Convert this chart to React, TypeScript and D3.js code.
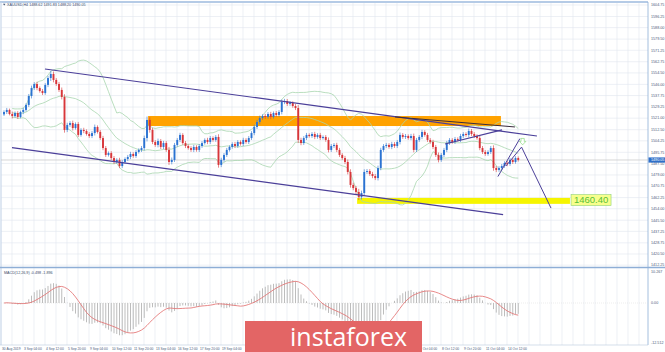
import React from 'react';
import * as d3 from 'd3';

const closes = [
  1525.6,1527.1,1524.1,1522.6,1524.8,1521.9,1525.6,1527.1,1530.8,1537.4,
  1543.3,1546.3,1543.3,1541.1,1539.6,1545.6,1550.7,1553.7,1549.3,1546.3,
  1541.9,1536.7,1512.3,1516.0,1517.4,1513.7,1516.7,1508.6,1512.3,1511.5,
  1509.3,1507.8,1510.0,1514.5,1510.8,1506.3,1498.9,1493.8,1495.2,1491.5,
  1488.6,1490.1,1485.6,1488.6,1490.8,1492.3,1494.5,1493.0,1496.0,1497.5,
  1498.9,1506.3,1519.7,1512.3,1503.4,1501.2,1504.1,1499.7,1502.6,1497.5,
  1488.6,1490.1,1501.2,1504.9,1508.6,1502.6,1500.4,1498.9,1497.5,1499.7,
  1497.5,1500.4,1502.6,1504.9,1503.4,1506.3,1504.9,1507.1,1486.4,1490.1,
  1493.8,1497.5,1499.7,1501.9,1500.4,1503.4,1501.9,1504.9,1503.4,1506.3,
  1510.0,1514.5,1518.2,1521.1,1522.6,1521.9,1524.1,1521.9,1524.8,1523.4,
  1525.6,1533.0,1533.7,1531.5,1532.2,1530.0,1528.5,1504.9,1502.6,1506.3,
  1508.6,1507.8,1509.3,1507.1,1508.6,1506.3,1507.1,1504.9,1497.5,1500.4,
  1501.2,1497.5,1493.8,1491.5,1488.6,1481.2,1471.6,1469.3,1466.4,1462.7,
  1465.6,1481.2,1481.9,1479.7,1478.2,1476.7,1484.1,1497.5,1500.4,1501.2,
  1499.7,1501.9,1500.4,1503.4,1508.6,1507.1,1507.8,1506.3,1507.8,1497.5,
  1504.9,1507.1,1510.8,1508.6,1504.9,1503.4,1499.7,1493.8,1490.1,1493.8,
  1497.5,1502.6,1504.9,1503.4,1505.6,1504.9,1507.8,1509.3,1508.6,1511.5,
  1509.3,1507.8,1506.3,1498.9,1496.0,1494.5,1496.0,1498.9,1484.1,1482.7,
  1484.1,1485.6,1487.8,1487.1,1490.1,1488.6,1491.5,1490.1,
];
const firstOpen = 1523.8;
const wicks = [
  1.2,1.5,1.0,1.8,1.2,1.4,1.0,1.6,1.2,1.5,
  1.8,1.4,1.6,1.2,1.5,1.3,1.6,2.2,1.8,1.4,
  1.5,1.8,2.0,1.6,1.4,1.8,1.2,1.5,1.3,1.6,
  1.2,1.4,1.5,1.8,1.2,1.4,1.6,1.5,1.2,1.4,
  1.5,1.3,1.6,1.4,1.2,1.5,1.6,1.3,1.4,1.2,
  1.5,1.8,2.5,2.0,1.6,1.4,1.8,1.5,1.6,1.4,
  2.2,1.8,1.5,1.4,1.6,1.3,1.5,1.2,1.4,1.6,
  1.3,1.5,1.4,1.2,1.6,1.5,1.3,1.4,2.0,1.6,
  1.4,1.5,1.2,1.3,1.5,1.4,1.2,1.6,1.3,1.5,
  1.4,1.6,1.5,1.8,1.3,1.5,1.4,1.6,1.2,1.5,
  1.4,1.8,1.6,1.5,1.4,1.3,1.5,2.2,1.6,1.4,
  1.5,1.2,1.4,1.6,1.3,1.5,1.2,1.4,1.8,1.5,
  1.4,1.6,1.5,1.3,1.6,1.8,2.0,1.6,1.5,2.3,
  1.8,2.0,1.5,1.4,1.6,1.5,1.8,1.6,1.4,1.5,
  1.3,1.6,1.4,1.5,1.8,1.4,1.5,1.2,1.6,1.8,
  1.5,1.4,1.6,1.3,1.5,1.4,1.6,1.5,1.8,1.4,
  1.5,1.6,1.4,1.3,1.5,1.2,1.6,1.4,1.3,1.8,
  1.5,1.4,1.3,1.6,1.5,1.4,1.3,1.5,2.0,1.6,
  1.4,1.5,1.3,1.6,1.4,1.5,1.3,1.2,
];
const priceTicks = [1604.75,1596.25,1588.00,1579.50,1571.25,1562.75,1554.50,1546.00,1537.75,1529.25,1521.00,1512.50,1504.25,1495.75,1487.50,1479.00,1470.75,1462.25,1454.00,1445.50,1437.25,1428.75,1420.50,1412.25];
const dateLabels = ['30 Aug 2019','3 Sep 04:00','4 Sep 12:00','5 Sep 20:00','9 Sep 04:00','10 Sep 12:00','11 Sep 20:00','13 Sep 04:00','16 Sep 12:00','17 Sep 20:00','19 Sep 04:00','20 Sep 12:00','23 Sep 20:00','25 Sep 04:00','26 Sep 12:00','27 Sep 20:00','1 Oct 04:00','2 Oct 12:00','3 Oct 20:00','7 Oct 04:00','8 Oct 12:00','9 Oct 20:00','11 Oct 04:00','14 Oct 12:00'];
const lastPrice = 1490.05;
const headerText = 'XAUUSD,H4  1488.62 1491.83 1488.20 1490.05';
const macdText = 'MACD(12,26,9) -0.498 -1.896';
// annotation segments: [barIndex, price]
const channelUpper = [[14.9, 1557.4], [193.8, 1507.8]];
const channelLower = [[2.9, 1499.2], [181.5, 1449.6]];
const darkLine = [[142.2, 1521.9], [185.8, 1514.5]];
const flagUpper = [[160.4, 1501.9], [181.1, 1512.3]];
const smallFlagA = [[179.6, 1477.8], [187.6, 1505.9]];
const smallFlagB = [[182.5, 1485.6], [188.2, 1499.6]];
const projection = [[188.2, 1499.6], [198.9, 1454.5]];
const orangeZone = { from: 52.4, to: 180.7, hi: 1522.6, lo: 1515.2 };
const yellowZone = { from: 128.4, to: 205.8, hi: 1462.0, lo: 1457.6 };
const targetLabel = { bar: 206.2, price: 1460.4, text: '1460.40' };
const arrowAt = { bar: 188.6, price: 1503.8 };

export default function App() {
  const W = 665, H = 352;
  const axisX = 648;
  const logo = { x: 245, y: 321, w: 177 };
  const xS = d3.scaleLinear().domain([0, 187]).range([4, 518.25]);
  const yS = d3.scaleLinear().domain([1420.5, 1604.75]).range([254, 5]);

  const candles = closes.map((c, i) => {
    const o = i === 0 ? firstOpen : closes[i - 1];
    const hi = Math.max(o, c) + wicks[i];
    const lo = Math.min(o, c) - wicks[i];
    return { i, o, c, hi, lo };
  });

  // Bollinger 20, 2
  const bb = closes.map((_, i) => {
    if (i < 3) return null;
    const win = closes.slice(Math.max(0, i - 19), i + 1);
    const m = d3.mean(win) as number;
    const sd = Math.sqrt(d3.mean(win.map(v => (v - m) ** 2)) as number);
    return { i, m, up: m + 2 * sd, dn: m - 2 * sd };
  });
  const bbLine = (key: 'm' | 'up' | 'dn') =>
    d3.line<any>().defined(d => d !== null).x(d => xS(d.i)).y(d => yS(d[key]))(bb as any) || '';

  // MACD 12,26,9 (MT4: histogram = main, signal = SMA)
  const ema = (n: number) => {
    const a = 2 / (n + 1);
    const out: number[] = [];
    closes.forEach((c, i) => out.push(i === 0 ? c : a * c + (1 - a) * out[i - 1]));
    return out;
  };
  const e12 = ema(12), e26 = ema(26);
  const macd = closes.map((_, i) => e12[i] - e26[i]);
  const signal = macd.map((_, i) => d3.mean(macd.slice(Math.max(0, i - 8), i + 1)) as number);
  const mMax = d3.max(macd) as number, mMin = d3.min(macd) as number;
  const s = Math.min(28 / mMax, 38 / -mMin);
  const zeroY = 303;
  const yM = d3.scaleLinear().domain([0, 1]).range([zeroY, zeroY - s]);
  const sigPath = d3.line<number>().x((_, i) => xS(i)).y(d => yM(d))(signal) || '';

  const vgrid: number[] = [];
  for (let k = 0; xS(4 * k) - 3 < axisX; k++) vgrid.push(xS(4 * k) - 3);

  const seg = (p: number[][]) => ({ x1: xS(p[0][0]), y1: yS(p[0][1]), x2: xS(p[1][0]), y2: yS(p[1][1]) });
  const lineColor = '#4b3f99';
  const small = { fontFamily: 'Arial, "Liberation Sans", sans-serif', fontSize: 3.7 };
  const dateFont = { fontFamily: 'Arial, "Liberation Sans", sans-serif', fontSize: 3.3 };
  const up = '#2b73d2', down = '#d8363a';

  const ax = xS(arrowAt.bar), ay = yS(arrowAt.price);

  // date labels that the logo hides are not drawn
  const visibleDates = dateLabels
    .map((l, k) => ({ l, x: xS(8 * k) - 2 }))
    .filter(d => d.x < logo.x - 2 || d.x > logo.x + logo.w - 3);

  return (
    <svg width={W} height={H} style={{ position: 'absolute', left: 0, top: 0, background: '#fff' }}>
      <rect x={0} y={0} width={W} height={H} fill="#fff" />
      {/* grid main */}
      <g stroke="#e1e6ee" strokeWidth={0.6}>
        {vgrid.map((x, k) => <line key={'v' + k} x1={x} x2={x} y1={3} y2={345} />)}
        {priceTicks.map((t, k) => <line key={'h' + k} x1={1} x2={axisX} y1={yS(t)} y2={yS(t)} />)}
      </g>
      {/* frame */}
      <line x1={0} x2={axisX} y1={2} y2={2} stroke="#b5cbe6" strokeWidth={2} />
      <line x1={1} x2={1} y1={2} y2={345} stroke="#c7d6ea" strokeWidth={1} />
      <line x1={axisX} x2={axisX} y1={2} y2={345} stroke="#8eaed6" strokeWidth={0.8} />
      <line x1={0} x2={W} y1={267.5} y2={267.5} stroke="#8eaed6" strokeWidth={1.6} />
      <line x1={0} x2={axisX} y1={345} y2={345} stroke="#b9c9de" strokeWidth={0.6} />

      {/* zones */}
      <rect x={xS(orangeZone.from)} width={xS(orangeZone.to) - xS(orangeZone.from)} y={yS(orangeZone.hi)} height={yS(orangeZone.lo) - yS(orangeZone.hi)} fill="#ffa200" />
      <rect x={xS(yellowZone.from)} width={xS(yellowZone.to) - xS(yellowZone.from)} y={yS(yellowZone.hi)} height={yS(yellowZone.lo) - yS(yellowZone.hi)} fill="#f6f500" />

      {/* last price line */}
      <line x1={1} x2={axisX} y1={yS(lastPrice)} y2={yS(lastPrice)} stroke="#c4c4c4" strokeWidth={0.7} />

      {/* bollinger */}
      <g fill="none" stroke="#a8d5ae" strokeWidth={0.8}>
        <path d={bbLine('up')} />
        <path d={bbLine('m')} />
        <path d={bbLine('dn')} />
      </g>

      {/* candles */}
      <g>
        {candles.map(d => {
          const col = d.c >= d.o ? up : down;
          const x = xS(d.i);
          const yt = yS(Math.max(d.o, d.c)), yb = yS(Math.min(d.o, d.c));
          return (
            <g key={d.i}>
              <line x1={x} x2={x} y1={yS(d.hi)} y2={yS(d.lo)} stroke={col} strokeWidth={0.6} />
              <rect x={x - 0.95} width={1.9} y={yt} height={Math.max(0.6, yb - yt)} fill={col} />
            </g>
          );
        })}
      </g>

      {/* annotations */}
      <g stroke={lineColor} strokeWidth={1.2}>
        <line {...seg(channelUpper)} />
        <line {...seg(channelLower)} />
        <line {...seg(flagUpper)} />
        <line {...seg(smallFlagA)} strokeWidth={1} />
        <line {...seg(smallFlagB)} strokeWidth={1} />
        <line {...seg(projection)} strokeWidth={1} />
      </g>
      <line {...seg(darkLine)} stroke="#3a2c3e" strokeWidth={1} />
      <path d={`M${ax - 1.6},${ay - 3} h3.2 v3 h1.6 l-3.2,3.4 l-3.2,-3.4 h1.6 z`} fill="#fff" stroke="#7bd36b" strokeWidth={0.6} />

      {/* target label */}
      <rect x={xS(targetLabel.bar)} y={yS(targetLabel.price) - 5.5} width={40} height={11} fill="#f7ff8c" stroke="#8fd27a" strokeWidth={0.6} />
      <text x={xS(targetLabel.bar) + 20} y={yS(targetLabel.price) + 3.3} textAnchor="middle" fontFamily="Arial, 'Liberation Sans', sans-serif" fontSize={9.5} fill="#58c03a">{targetLabel.text}</text>

      {/* price axis labels */}
      <g {...small} fill="#4a5a7a">
        {priceTicks.map((t, k) => (
          <text key={k} x={651} y={yS(t) + 1.3}>{t.toFixed(2)}</text>
        ))}
      </g>
      <rect x={648.5} y={yS(lastPrice) - 2.6} width={16.5} height={5.2} fill="#2f6fc8" />
      <text x={651} y={yS(lastPrice) + 1.3} {...small} fill="#fff">{lastPrice.toFixed(2)}</text>

      {/* header */}
      <path d="M3,3.8 l2.4,0 l-1.2,1.6 z" fill="#3a4a6a" />
      <text x={7} y={6.2} {...small} fill="#3a4a6a">{headerText}</text>

      {/* MACD */}
      <line x1={1} x2={axisX} y1={zeroY} y2={zeroY} stroke="#d8d8d8" strokeWidth={0.5} strokeDasharray="1,1" />
      <g>
        {macd.map((v, i) => (
          <line key={i} x1={xS(i)} x2={xS(i)} y1={zeroY} y2={yM(v)} stroke="#bdbdbd" strokeWidth={1} />
        ))}
      </g>
      <path d={sigPath} fill="none" stroke="#e26b6b" strokeWidth={0.8} />
      <text x={4} y={274} {...small} fill="#3a4a6a">{macdText}</text>
      <g {...small} fill="#4a5a7a">
        <text x={651} y={272.5}>{yM.invert(271).toFixed(3)}</text>
        <text x={651} y={zeroY + 1.3}>0.00</text>
        <text x={651} y={343.5}>{yM.invert(342).toFixed(3)}</text>
      </g>

      {/* date labels */}
      <g {...dateFont} fill="#4a5a7a">
        {visibleDates.map((d, k) => (
          <text key={k} x={d.x} y={350}>{d.l}</text>
        ))}
      </g>

      {/* logo */}
      <rect x={logo.x} y={logo.y} width={logo.w} height={H - logo.y} fill="#e36565" />
      <text x={290} y={346} fontFamily="'Open Sans', Roboto, sans-serif" fontSize={25} fill="#fff">instaforex</text>
    </svg>
  );
}
